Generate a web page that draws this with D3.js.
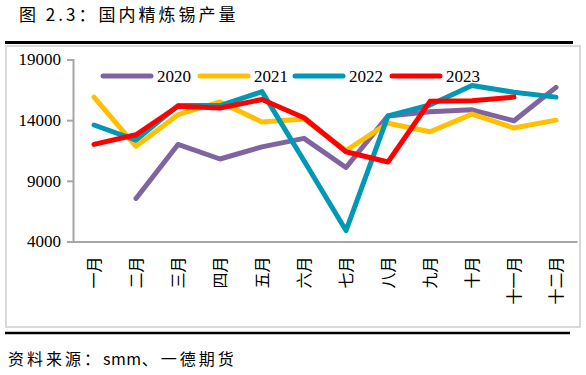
<!DOCTYPE html>
<html><head><meta charset="utf-8">
<script src="https://cdn.jsdelivr.net/npm/d3@7"></script>
<style>body{margin:0;background:#fff;}svg{display:block;}</style>
</head><body>
<svg id="c" width="586" height="375"></svg>
<script>
const months = ["一月","二月","三月","四月","五月","六月","七月","八月","九月","十月","十一月","十二月"];
const yTicks = [4000, 9000, 14000, 19000];
const seriesNames = ["2020","2021","2022","2023"];
const colors = ["#8064a2","#ffc000","#0098b4","#ff0000"];
const v2020 = [null, 7550, 12000, 10800, 11800, 12500, 10100, 14350, 14700, 14850, 13950, 16700];
const v2021 = [15900, 11850, 14450, 15500, 13850, 14100, 11500, 13750, 13050, 14500, 13350, 14000];
const v2022 = [13600, 12350, 15200, 15200, 16350, 10650, 4900, 14350, 15250, 16850, 16300, 15900];
const v2023 = [12000, 12800, 15150, 15000, 15700, 14200, 11400, 10550, 15550, 15600, 15900, null];
const allValues = [v2020, v2021, v2022, v2023];

const svg = d3.select("#c");
const serif = "'Liberation Serif','DejaVu Serif',serif";
const cjk = "'Noto Sans CJK SC','Noto Sans',sans-serif";

// title
svg.append("text").attr("x", 19).attr("y", 21).attr("font-family", cjk)
  .attr("font-size", 17).attr("letter-spacing", 3).attr("fill", "#000")
  .text("图 2.3：国内精炼锡产量");
// top black rule
svg.append("line").attr("x1", 5).attr("x2", 573).attr("y1", 42.5).attr("y2", 42.5)
  .attr("stroke", "#000").attr("stroke-width", 3);
// gray frame
svg.append("rect").attr("x", 6).attr("y", 46).attr("width", 574).attr("height", 281)
  .attr("fill", "none").attr("stroke", "#d9d9d9").attr("stroke-width", 2);
// bottom black rule
svg.append("line").attr("x1", 5).attr("x2", 570).attr("y1", 333).attr("y2", 333)
  .attr("stroke", "#000").attr("stroke-width", 2.5);
// source
const src = svg.append("text").attr("x", 8).attr("y", 365).attr("font-family", cjk)
  .attr("font-size", 16).attr("fill", "#000");
src.append("tspan").attr("letter-spacing", 3).text("资料来源：");
src.append("tspan").attr("letter-spacing", 0.5).text("smm");
src.append("tspan").attr("letter-spacing", 3).text("、一德期货");

const x = d3.scaleBand().domain(months).range([73, 577]).padding(0);
const y = d3.scaleLinear().domain([4000, 19000]).range([241.5, 59.5]);

// y axis
const ya = svg.append("g").attr("transform", "translate(73,0)")
  .call(d3.axisLeft(y).tickValues(yTicks).tickSize(6).tickPadding(6).tickFormat(d3.format("d")));
ya.attr("font-family", serif);
ya.select(".domain").attr("stroke", "#a6a6a6").attr("stroke-width", 2);
ya.selectAll(".tick line").attr("stroke", "#a6a6a6").attr("stroke-width", 2);
ya.selectAll("text").attr("font-family", serif).attr("font-size", 17).attr("fill", "#000");

// x axis
const xa = svg.append("g").attr("transform", "translate(0,241.5)")
  .call(d3.axisBottom(x).tickSize(0).tickSizeOuter(0));
xa.attr("font-family", cjk);
xa.select(".domain").attr("stroke", "#a6a6a6").attr("stroke-width", 2);
xa.selectAll(".tick text")
  .attr("transform", "translate(0,15) rotate(-90)")
  .attr("x", 0).attr("y", 0).attr("dy", "0.35em")
  .attr("text-anchor", "end")
  .attr("font-family", cjk).attr("font-size", 16).attr("fill", "#000");

// lines
const line = d3.line()
  .defined(d => d.v !== null)
  .x(d => x(d.m) + x.bandwidth() / 2)
  .y(d => y(d.v));
allValues.forEach((vals, i) => {
  svg.append("path")
    .datum(months.map((m, j) => ({ m, v: vals[j] })))
    .attr("d", line).attr("fill", "none")
    .attr("stroke", colors[i]).attr("stroke-width", 5)
    .attr("stroke-linejoin", "round").attr("stroke-linecap", "round");
});

// legend
const legX = [103, 200, 295, 392];
seriesNames.forEach((n, i) => {
  svg.append("line").attr("x1", legX[i]).attr("x2", legX[i] + 48)
    .attr("y1", 76).attr("y2", 76).attr("stroke", colors[i])
    .attr("stroke-width", 5).attr("stroke-linecap", "round");
  svg.append("text").attr("x", legX[i] + 54).attr("y", 76).attr("dy", "0.35em")
    .attr("font-family", serif).attr("font-size", 17).attr("fill", "#000").text(n);
});
</script>
</body></html>
